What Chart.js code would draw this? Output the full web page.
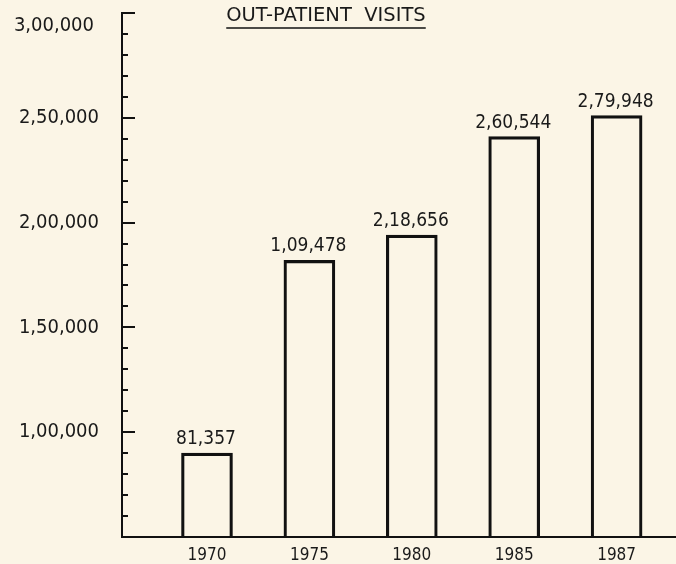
<!DOCTYPE html>
<html>
<head>
<meta charset="utf-8">
<script src="https://cdn.jsdelivr.net/npm/chart.js@4"></script>
<style>
  html, body { margin: 0; padding: 0; background: #fbf5e6; }
  #wrap { width: 676px; height: 564px; }
</style>
</head>
<body>
<div id="wrap"><canvas id="visitsChart" width="676" height="564"></canvas></div>
<script>
    // years on the x axis
    const years = ['1970', '1975', '1980', '1985', '1987'];
    // bar heights as drawn on the y scale
    const barHeights = [90000, 182000, 194000, 241000, 251000];
    // numbers printed above the bars
    const barLabels = ['81,357', '1,09,478', '2,18,656', '2,60,544', '2,79,948'];
    // y axis range and labelled steps
    const yMin = 50000;
    const yMax = 300000;
    const yStep = 50000;
    const yMinorStep = 10000;
    const chartTitle = 'OUT-PATIENT  VISITS';

    const fontFamily = "'DejaVu Sans Condensed', 'DejaVu Sans', sans-serif";

    function lakhFormat(n) {
        const s = String(n);
        if (s.length <= 3) return s;
        let last3 = s.slice(-3);
        let rest = s.slice(0, -3);
        const parts = [];
        while (rest.length > 2) {
            parts.unshift(rest.slice(-2));
            rest = rest.slice(0, -2);
        }
        if (rest.length) parts.unshift(rest);
        return parts.join(',') + ',' + last3;
    }

    // ticks on the inside of the y axis, top label, labels over bars, title with underline
    const paperPlugin = {
        id: 'paperPlugin',
        beforeDraw(chart) {
            const ctx = chart.ctx;
            ctx.save();
            ctx.fillStyle = '#fbf5e6';
            ctx.fillRect(0, 0, chart.width, chart.height);
            ctx.restore();
        },
        afterDraw(chart) {
            const ctx = chart.ctx;
            const yScale = chart.scales.y;
            const xScale = chart.scales.x;
            const left = chart.chartArea.left;

            ctx.save();
            ctx.strokeStyle = '#111';
            ctx.lineWidth = 2;
            for (let v = yMin + yMinorStep; v <= yMax; v += yMinorStep) {
                const y = Math.round(yScale.getPixelForValue(v));
                const len = (v % yStep === 0) ? 13 : 6;
                ctx.beginPath();
                ctx.moveTo(left, y);
                ctx.lineTo(left + len, y);
                ctx.stroke();
            }

            ctx.fillStyle = '#1a1a1a';
            // the top label sits a little below its tick, as on the page
            ctx.font = '20px ' + fontFamily;
            ctx.textAlign = 'right';
            ctx.textBaseline = 'middle';
            ctx.fillText(lakhFormat(yMax), left - 28, yScale.getPixelForValue(yMax) + 13);

            ctx.font = '19px ' + fontFamily;
            ctx.textAlign = 'center';
            ctx.textBaseline = 'alphabetic';
            barHeights.forEach(function (h, i) {
                const x = xScale.getPixelForValue(i);
                const y = yScale.getPixelForValue(h);
                ctx.fillText(barLabels[i], x - 1, y - 9);
            });

            ctx.font = "19.5px 'DejaVu Sans', sans-serif";
            ctx.fillText(chartTitle, 326, 21);
            const w = ctx.measureText(chartTitle).width;
            ctx.lineWidth = 1.5;
            ctx.beginPath();
            ctx.moveTo(326 - w / 2, 28);
            ctx.lineTo(326 + w / 2, 28);
            ctx.stroke();
            ctx.restore();
        }
    };

    const ctxBar = document.getElementById('visitsChart').getContext('2d');
    const visitsChart = new Chart(ctxBar, {
        type: 'bar',
        data: {
            datasets: [{
                data: barHeights.map(function (h, i) { return { x: i, y: h }; }),
                backgroundColor: 'rgba(0,0,0,0)',
                borderColor: '#111',
                borderWidth: 2.5,
                borderSkipped: 'bottom',
                barThickness: 51
            }]
        },
        options: {
            responsive: false,
            animation: false,
            layout: {
                padding: { left: 4, right: 0, top: 13, bottom: 0 }
            },
            plugins: {
                legend: { display: false },
                tooltip: { enabled: false },
                title: { display: false }
            },
            scales: {
                x: {
                    type: 'linear',
                    offset: false,
                    min: -0.83,
                    max: 4.58,
                    afterBuildTicks: function (scale) {
                        scale.ticks = years.map(function (y, i) { return { value: i }; });
                    },
                    afterFit: function (scale) {
                        scale.height = 27;
                        scale.paddingLeft = 0;
                        scale.paddingRight = 0;
                    },
                    grid: { display: false },
                    border: { display: true, color: '#111', width: 2 },
                    ticks: {
                        color: '#1a1a1a',
                        padding: 0,
                        maxRotation: 0,
                        font: { family: fontFamily, size: 17 },
                        callback: function (value) {
                            return years[value];
                        }
                    }
                },
                y: {
                    min: yMin,
                    max: yMax,
                    afterFit: function (scale) {
                        scale.width = 118;
                        scale.paddingTop = 0;
                        scale.paddingBottom = 0;
                    },
                    grid: { display: false },
                    border: { display: true, color: '#111', width: 2 },
                    ticks: {
                        stepSize: yStep,
                        color: '#1a1a1a',
                        padding: 15,
                        font: { family: fontFamily, size: 20 },
                        callback: function (value) {
                            if (value === yMin || value === yMax) return '';
                            return lakhFormat(value);
                        }
                    }
                }
            }
        },
        plugins: [paperPlugin]
    });
</script>
</body>
</html>
